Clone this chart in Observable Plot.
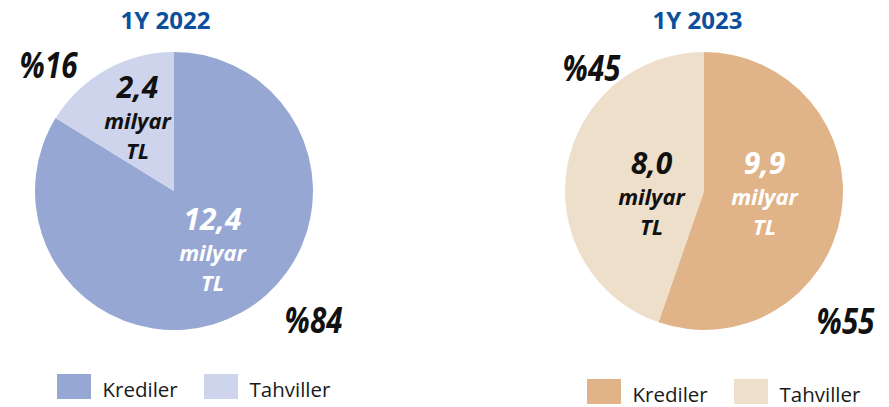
<!DOCTYPE html>
<html>
<head>
<meta charset="utf-8">
<script src="https://cdn.jsdelivr.net/npm/d3@7"></script>
<script src="https://cdn.jsdelivr.net/npm/@observablehq/plot@0.6"></script>
<style>
  html, body { margin: 0; padding: 0; background: #fff; }
  #chart svg { display: block; }
</style>
</head>
<body>
<div id="chart"></div>
<script>
// ---- data ----
const years = ["1Y 2022", "1Y 2023"];
const categories = ["Krediler", "Tahviller"];
const values2022 = [12.4, 2.4];
const values2023 = [9.9, 8.0];
const valueLabels2022 = ["12,4", "2,4"];
const valueLabels2023 = ["9,9", "8,0"];
const shares2022 = [84, 16];
const shares2023 = [55, 45];
const unitLines = ["milyar", "TL"];
const colors2022 = ["#97a7d4", "#cdd4ec"];
const colors2023 = ["#e0b488", "#eedfcb"];

// ---- layout ----
const W = 889, H = 407;
const pies = [
  {cx: 174, cy: 191, r: 139, titleX: 165, values: values2022, labels: valueLabels2022, shares: shares2022, colors: colors2022,
   anchors: [[38, 69], [-37, -63]], pct: [[139, 141], [-126, -114]], legend: {x: 57, y: 374}},
  {cx: 704, cy: 191, r: 139, titleX: 697, values: values2023, labels: valueLabels2023, shares: shares2023, colors: colors2023,
   anchors: [[60, 13], [-53, 13]], pct: [[141, 142], [-113, -111]], legend: {x: 587, y: 379}}
];
const labelFills = ["#ffffff", "#111111"];
const boldItalic = "'Open Sans', sans-serif";

function pieMark(p) {
  return () => {
    const g = d3.create("svg:g").attr("transform", `translate(${p.cx},${p.cy})`);
    const arcs = d3.pie().sort(null).value(d => d)(p.values);
    const arc = d3.arc().innerRadius(0).outerRadius(p.r);
    g.selectAll("path").data(arcs).join("path")
      .attr("d", arc)
      .attr("fill", (d, i) => p.colors[i]);
    return g.node();
  };
}

const titleRows = years.map((t, k) => ({x: pies[k].titleX, y: 28, text: t}));
const valueRows = [], unitRows = [], pctRows = [], swatchRows = [], legendTextRows = [];
pies.forEach(p => {
  categories.forEach((c, i) => {
    const ax = p.cx + p.anchors[i][0], ay = p.cy + p.anchors[i][1];
    valueRows.push({x: ax, y: ay - 31, text: p.labels[i], fill: labelFills[i]});
    unitLines.forEach((u, j) => unitRows.push({x: ax, y: ay + j * 30, text: u, fill: labelFills[i]}));
    pctRows.push({x: p.cx + p.pct[i][0], y: p.cy + p.pct[i][1], text: "%" + p.shares[i]});
    const lx = p.legend.x + i * 147;
    swatchRows.push({x1: lx, x2: lx + 34, y1: p.legend.y, y2: p.legend.y + 25, fill: p.colors[i]});
    legendTextRows.push({x: lx + 45, y: p.legend.y + 22, text: c});
  });
});

const chart = Plot.plot({
  width: W,
  height: H,
  margin: 0,
  x: {type: "identity", axis: null},
  y: {type: "identity", axis: null},
  color: {type: "identity"},
  style: {background: "#fff", overflow: "visible"},
  marks: [
    ...pies.map(pieMark),
    Plot.text(titleRows, {x: "x", y: "y", text: "text", fill: "#0c4f9c", fontSize: 24, fontWeight: "bold",
      fontFamily: "'Open Sans', sans-serif", textAnchor: "middle", lineAnchor: "bottom"}),
    Plot.text(valueRows, {x: "x", y: "y", text: "text", fill: "fill", fontSize: 30, fontWeight: "bold",
      fontStyle: "italic", fontFamily: boldItalic, textAnchor: "middle", lineAnchor: "bottom"}),
    Plot.text(unitRows, {x: "x", y: "y", text: "text", fill: "fill", fontSize: 22, fontWeight: "bold",
      fontStyle: "italic", fontFamily: boldItalic, textAnchor: "middle", lineAnchor: "bottom"}),
    Plot.text(pctRows, {x: "x", y: "y", text: "text", fill: "#111", fontSize: 36, fontWeight: "bold",
      fontStyle: "italic", fontFamily: boldItalic, textAnchor: "middle", lineAnchor: "bottom",
      ariaDescription: "pct"}),
    Plot.rect(swatchRows, {x1: "x1", x2: "x2", y1: "y1", y2: "y2", fill: "fill"}),
    Plot.text(legendTextRows, {x: "x", y: "y", text: "text", fill: "#1a1a1a", fontSize: 20.5,
      fontFamily: "'Open Sans', sans-serif", textAnchor: "start", lineAnchor: "bottom"})
  ]
});
// condense the percentage labels horizontally
d3.select(chart).selectAll('g[aria-description="pct"] text').each(function () {
  const t = this.getAttribute("transform") || "";
  this.setAttribute("transform", t + " scale(0.82,1)");
});
document.getElementById("chart").appendChild(chart);
</script>
</body>
</html>
